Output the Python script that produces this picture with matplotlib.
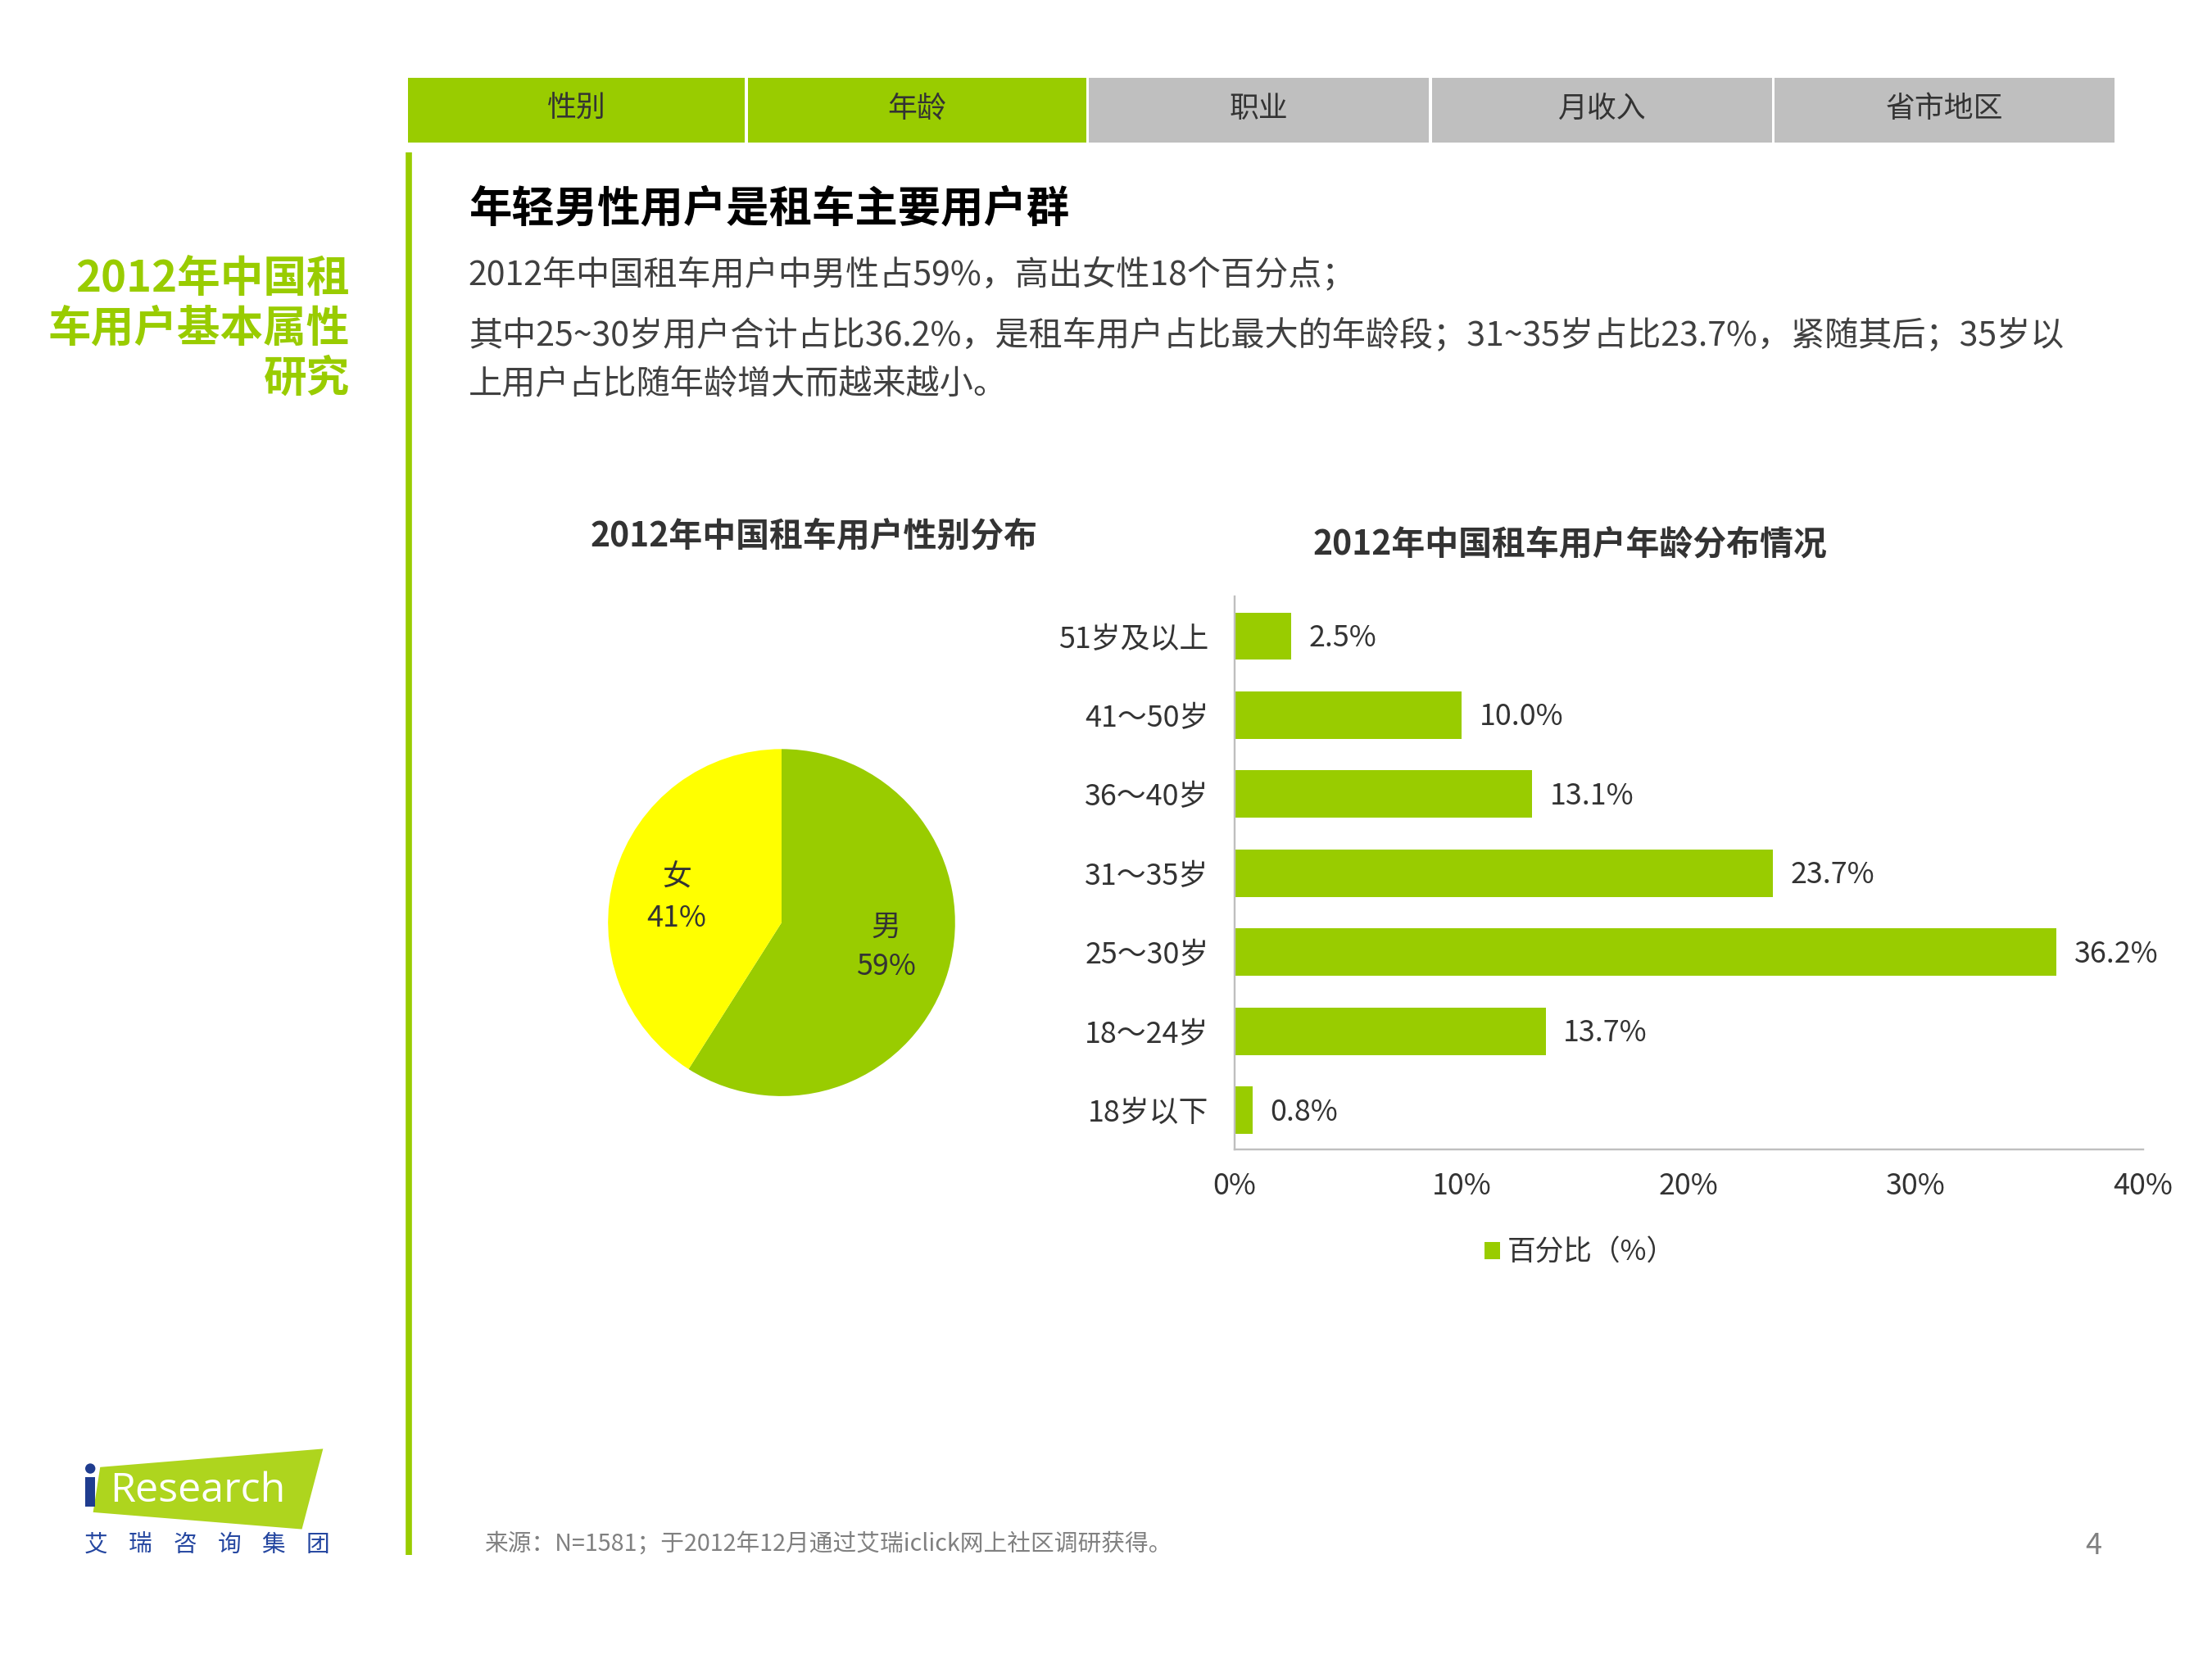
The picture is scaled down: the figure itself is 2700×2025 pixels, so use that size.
import matplotlib
matplotlib.use("Agg")
import matplotlib.pyplot as plt
from matplotlib.patches import Rectangle, Polygon, Circle
import numpy as np

plt.rcParams['font.family'] = ['Noto Sans CJK SC', 'DejaVu Sans']

# ---------------- data ----------------
tab_labels = ['性别', '年龄', '职业', '月收入', '省市地区']
tab_active = [True, True, False, False, False]

gender_names = ['男', '女']
gender_pct = [59, 41]

age_groups = ['18岁以下', '18～24岁', '25～30岁', '31～35岁', '36～40岁', '41～50岁', '51岁及以上']
age_pct = [0.8, 13.7, 36.2, 23.7, 13.1, 10.0, 2.5]
x_ticks = [0, 10, 20, 30, 40]
legend_label = '百分比（%）'

side_title = '2012年中国租\n车用户基本属性\n研究'
heading = '年轻男性用户是租车主要用户群'
body_lines = ['2012年中国租车用户中男性占59%，高出女性18个百分点；',
              '其中25~30岁用户合计占比36.2%，是租车用户占比最大的年龄段；31~35岁占比23.7%，紧随其后；35岁以',
              '上用户占比随年龄增大而越来越小。']
pie_title = '2012年中国租车用户性别分布'
bar_title = '2012年中国租车用户年龄分布情况'
source_text = '来源：N=1581；于2012年12月通过艾瑞iclick网上社区调研获得。'
page_no = '4'
logo_cn = ['艾', '瑞', '咨', '询', '集', '团']

GREEN = '#99CC00'
YELLOW = '#FFFF00'
GRAY_TAB = '#BFBFBF'
TXT = '#404040'

W, H = 1568, 1176
fig = plt.figure(figsize=(15.68, 11.76), dpi=172.2)
fig.patch.set_facecolor('white')

# background / decoration axes in display pixel coords
ax0 = fig.add_axes([0, 0, 1, 1])
ax0.set_xlim(0, W)
ax0.set_ylim(H, 0)
ax0.axis('off')

# tabs
edges = [288, 529, 771, 1014, 1257, 1500]
for i, lab in enumerate(tab_labels):
    x0, x1 = edges[i], edges[i + 1]
    col = GREEN if tab_active[i] else GRAY_TAB
    ax0.add_patch(Rectangle((x0 + 1, 55), x1 - x0 - 2, 46, facecolor=col, edgecolor='none'))
    ax0.text((x0 + x1) / 2, 77, lab, ha='center', va='center', fontsize=15, color='#333333')

# vertical green line
ax0.plot([290, 290], [108, 1102], color=GREEN, lw=3.2, solid_capstyle='butt')

# side title
ax0.text(248, 233, side_title, ha='right', va='center', fontsize=22, fontweight='bold',
         color=GREEN, linespacing=1.18, multialignment='right')

# heading and body
ax0.text(332, 148, heading, ha='left', va='center', fontsize=21.9, fontweight='bold', color='black')
for y, line in zip([195, 238, 272], body_lines):
    ax0.text(332, y, line, ha='left', va='center', fontsize=17.2, color=TXT)

# chart titles
ax0.text(577, 380, pie_title, ha='center', va='center', fontsize=17.1, fontweight='bold', color='#333333')
ax0.text(1113, 386, bar_title, ha='center', va='center', fontsize=17.1, fontweight='bold', color='#333333')

# source and page
ax0.text(343, 1095, source_text, ha='left', va='center', fontsize=12, color='#808080')
ax0.text(1484, 1096, page_no, ha='center', va='center', fontsize=15, color='#808080')

# logo
ax0.add_patch(Polygon([(71, 1040), (229, 1027), (214, 1084), (66, 1072)], closed=True,
                      facecolor='#AED51E', edgecolor='none'))
ax0.add_patch(Circle((64, 1041), 3.6, facecolor='#1F3C8F', edgecolor='none'))
ax0.add_patch(Rectangle((60.5, 1047), 7, 21, facecolor='#1F3C8F', edgecolor='none'))
ax0.text(78, 1057, 'Research', ha='left', va='center', fontsize=21, color='white',
         family=['Open Sans', 'DejaVu Sans'])
for i, ch in enumerate(logo_cn):
    ax0.text(68 + i * 31.5, 1095, ch, ha='center', va='center', fontsize=12, color='#2446A0')

# ---------------- pie ----------------
cx, cy, r = 554, 654, 123
axp = fig.add_axes([(cx - r) / W, 1 - (cy + r) / H, 2 * r / W, 2 * r / H])
wedges, _ = axp.pie(gender_pct, colors=[GREEN, YELLOW], startangle=90, counterclock=False,
                    radius=1, wedgeprops=dict(linewidth=0))
axp.set_xlim(-1, 1)
axp.set_ylim(-1, 1)
axp.set_aspect('equal')
axp.axis('off')
for w, n, p in zip(wedges, gender_names, gender_pct):
    th = np.deg2rad((w.theta1 + w.theta2) / 2 + 3)
    axp.text(0.62 * np.cos(th), 0.62 * np.sin(th), f'{n}\n{p}%', ha='center', va='center',
             fontsize=15, color='#333333', linespacing=1.45)

# ---------------- bars ----------------
bx0, bx1, by0, by1 = 875, 1519, 423, 815
axb = fig.add_axes([bx0 / W, 1 - by1 / H, (bx1 - bx0) / W, (by1 - by0) / H])
ypos = np.arange(len(age_groups))
bars = axb.barh(ypos, age_pct, height=0.6, color=GREEN, label=legend_label)
axb.set_xlim(0, 40)
axb.set_ylim(-0.5, len(age_groups) - 0.5)
axb.set_yticks(ypos)
axb.set_yticklabels(age_groups)
axb.set_xticks(x_ticks)
axb.set_xticklabels([f'{t}%' for t in x_ticks])
axb.tick_params(axis='both', length=0, labelsize=15, colors='#333333')
axb.tick_params(axis='x', pad=11)
axb.tick_params(axis='y', pad=13)
for s in ['top', 'right']:
    axb.spines[s].set_visible(False)
for s in ['left', 'bottom']:
    axb.spines[s].set_color('#BFBFBF')
    axb.spines[s].set_linewidth(1.0)
axb.set_facecolor('none')
for b, v in zip(bars, age_pct):
    axb.annotate(f'{v:.1f}%', (b.get_width(), b.get_y() + b.get_height() / 2),
                 xytext=(9, -1), textcoords='offset points', ha='left', va='center',
                 fontsize=15, color='#333333')

leg = axb.legend(loc='center', bbox_to_anchor=(1120 / W, 1 - 888 / H), bbox_transform=fig.transFigure,
                 frameon=False, fontsize=14.5, handlelength=0.55, handleheight=0.55, handletextpad=0.25)
for t in leg.get_texts():
    t.set_color('#333333')

fig.savefig('out.png', dpi=172.2, facecolor='white')
